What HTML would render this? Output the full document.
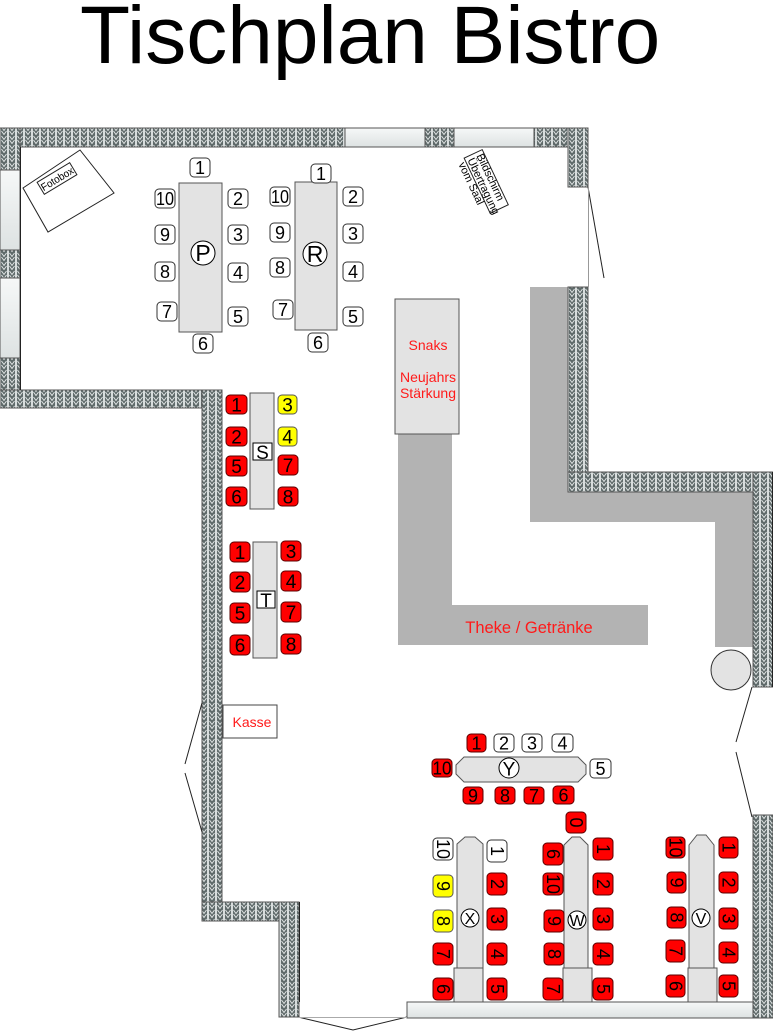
<!DOCTYPE html>
<html><head><meta charset="utf-8"><style>
html,body{margin:0;padding:0;background:#fff;}
svg{display:block;}
.cw{fill:#fff;stroke:#333;stroke-width:1}
.cr{fill:#ff0000;stroke:#5a0000;stroke-width:1}
.cy{fill:#ffff00;stroke:#555;stroke-width:1}
.wl{fill:url(#wp);stroke:#555;stroke-width:1}
.win{fill:url(#wg);stroke:#555;stroke-width:1}
.tb{fill:#e3e3e3;stroke:#555;stroke-width:1}
.ct{fill:#b3b3b3}
text{font-family:"Liberation Sans",Arial,sans-serif;}
.n{font-size:18px;text-anchor:middle;fill:#000}
.ns{font-size:19px;text-anchor:middle;fill:#000}
.red{fill:#ff1a1a;text-anchor:middle}
</style></head><body>
<svg width="773" height="1031" viewBox="0 0 773 1031" xmlns="http://www.w3.org/2000/svg">
<defs>
<pattern id="wp" width="8" height="9" patternUnits="userSpaceOnUse">
<rect width="8" height="9" fill="#5f6a6a"/>
<path d="M0.5,0V9M7.5,0V9M1.5,1L4,4.5L6.5,1M1.5,5L4,8.5L6.5,5" stroke="#e6eaea" stroke-width="0.9" fill="none"/>
</pattern>
<linearGradient id="wg" x1="0" y1="0" x2="0" y2="1">
<stop offset="0" stop-color="#f6f8f8"/><stop offset="1" stop-color="#dde2e2"/>
</linearGradient>
</defs>

<text x="80" y="63" font-size="82" fill="#000">Tischplan Bistro</text>

<!-- counters -->
<rect class="ct" x="530" y="287" width="38" height="235"/>
<rect class="ct" x="568" y="492" width="185" height="30"/>
<rect class="ct" x="715" y="492" width="38" height="155"/>
<rect class="ct" x="398" y="434" width="54" height="211"/>
<rect class="ct" x="398" y="605" width="250" height="40"/>
<text class="red" x="529" y="633" font-size="16.5">Theke / Getränke</text>

<!-- walls -->
<rect class="wl" x="0" y="128" width="588" height="19"/>
<rect class="wl" x="0" y="128" width="20" height="280"/>
<rect class="wl" x="0" y="390" width="222" height="18"/>
<rect class="wl" x="202" y="390" width="20" height="531"/>
<rect class="wl" x="202" y="902" width="97" height="19"/>
<rect class="wl" x="279" y="902" width="20" height="115"/>
<rect class="wl" x="568" y="128" width="20" height="59"/>
<rect class="wl" x="568" y="287" width="20" height="205"/>
<rect class="wl" x="568" y="472" width="205" height="20"/>
<rect class="wl" x="753" y="472" width="20" height="215"/>
<rect class="wl" x="753" y="815" width="20" height="203"/>

<!-- windows -->
<rect class="win" x="345" y="128" width="80" height="19"/>
<rect class="win" x="454" y="128" width="80" height="19"/>
<rect class="win" x="0" y="170" width="20" height="80"/>
<rect class="win" x="0" y="278" width="20" height="80"/>
<rect class="win" x="407" y="1002" width="346" height="16"/>

<!-- lines / doors -->
<g stroke="#222" stroke-width="1" fill="none">
<path d="M20.5,147V390"/>
<path d="M299.5,902V1002"/>
<path d="M772.5,472V687"/>
<path d="M588,187L604,278"/>
<path d="M752,687L736,742M736,752L752,817"/>
<path d="M202,703L185,764M185,773L202,832"/>
<path d="M298,1017L353,1030L407,1017"/>
</g>
<path d="M588.5,187V287" stroke="#999" stroke-width="1"/>
<path d="M298,1017.5H407" stroke="#aaa" stroke-width="1"/>

<circle cx="731" cy="670" r="20" fill="#e3e3e3" stroke="#333"/>

<!-- Fotobox -->
<polygon points="23,188 80,150 114,193 48,232" fill="#fff" stroke="#222"/>
<g transform="translate(57,178.5) rotate(-31)">
<rect x="-19" y="-7" width="38" height="14" fill="#fff" stroke="#222"/>
<text x="0" y="4" font-size="10.5" text-anchor="middle" textLength="36" lengthAdjust="spacingAndGlyphs">Fotobox</text>
</g>

<!-- Bildschirm -->
<g transform="translate(486,181) rotate(64.7)">
<rect x="-30" y="-10" width="61" height="20" fill="#fff" stroke="#222"/>
<text x="-27" y="-2" font-size="11">Bildschirm</text>
<text x="-27" y="8" font-size="11">Übertragung</text>
<text x="-27" y="18" font-size="11">vom Saal</text>
</g>

<!-- Snaks -->
<rect class="tb" x="395" y="299" width="64" height="135" stroke="#333"/>
<text class="red" x="428" y="350" font-size="14">Snaks</text>
<text class="red" x="428" y="382" font-size="14">Neujahrs</text>
<text class="red" x="428" y="398" font-size="14">Stärkung</text>

<!-- Kasse -->
<rect x="223" y="705" width="54" height="33" fill="#fff" stroke="#444"/>
<text class="red" x="252" y="727" font-size="14">Kasse</text>

<!-- Table P -->
<rect class="tb" x="179" y="183" width="43" height="149"/>
<circle cx="203" cy="253" r="12" fill="#fff" stroke="#000"/>
<text x="203" y="261" font-size="23" text-anchor="middle">P</text>
<rect class="cw" x="190" y="158" width="20" height="19" rx="4"/><text class="n" x="200" y="174">1</text>
<rect class="cw" x="155" y="189" width="20" height="19" rx="4"/><text class="n" x="165" y="205" textLength="18" lengthAdjust="spacingAndGlyphs">10</text>
<rect class="cw" x="228" y="189" width="20" height="19" rx="4"/><text class="n" x="238" y="205">2</text>
<rect class="cw" x="155" y="225" width="20" height="19" rx="4"/><text class="n" x="165" y="241">9</text>
<rect class="cw" x="228" y="225" width="20" height="19" rx="4"/><text class="n" x="238" y="241">3</text>
<rect class="cw" x="155" y="262" width="20" height="19" rx="4"/><text class="n" x="165" y="278">8</text>
<rect class="cw" x="228" y="263" width="20" height="19" rx="4"/><text class="n" x="238" y="279">4</text>
<rect class="cw" x="157" y="302" width="20" height="19" rx="4"/><text class="n" x="167" y="318">7</text>
<rect class="cw" x="228" y="307" width="20" height="19" rx="4"/><text class="n" x="238" y="323">5</text>
<rect class="cw" x="193" y="334" width="20" height="19" rx="4"/><text class="n" x="203" y="350">6</text>

<!-- Table R -->
<rect class="tb" x="295" y="182" width="42" height="148"/>
<circle cx="315" cy="254" r="12" fill="#fff" stroke="#000"/>
<text x="315" y="262" font-size="23" text-anchor="middle">R</text>
<rect class="cw" x="311" y="164" width="20" height="19" rx="4"/><text class="n" x="321" y="180">1</text>
<rect class="cw" x="270" y="187" width="20" height="19" rx="4"/><text class="n" x="280" y="203" textLength="18" lengthAdjust="spacingAndGlyphs">10</text>
<rect class="cw" x="343" y="187" width="20" height="19" rx="4"/><text class="n" x="353" y="203">2</text>
<rect class="cw" x="270" y="223" width="20" height="19" rx="4"/><text class="n" x="280" y="239">9</text>
<rect class="cw" x="343" y="224" width="20" height="19" rx="4"/><text class="n" x="353" y="240">3</text>
<rect class="cw" x="270" y="258" width="20" height="19" rx="4"/><text class="n" x="280" y="274">8</text>
<rect class="cw" x="343" y="262" width="20" height="19" rx="4"/><text class="n" x="353" y="278">4</text>
<rect class="cw" x="273" y="300" width="20" height="19" rx="4"/><text class="n" x="283" y="316">7</text>
<rect class="cw" x="343" y="307" width="20" height="19" rx="4"/><text class="n" x="353" y="323">5</text>
<rect class="cw" x="308" y="333" width="20" height="19" rx="4"/><text class="n" x="318" y="349">6</text>

<!-- Table S -->
<rect class="tb" x="250" y="393" width="24" height="116"/>
<rect x="253" y="443" width="19" height="17" fill="#fff" stroke="#000"/>
<text x="262.5" y="459" font-size="19" text-anchor="middle">S</text>
<rect class="cr" x="226" y="395" width="21" height="19" rx="4"/><text class="ns" x="236.5" y="411.5">1</text>
<rect class="cy" x="278" y="395" width="19" height="19" rx="4"/><text class="ns" x="287.5" y="411.5">3</text>
<rect class="cr" x="226" y="427" width="21" height="19" rx="4"/><text class="ns" x="236.5" y="443.5">2</text>
<rect class="cy" x="278" y="427" width="19" height="19" rx="4"/><text class="ns" x="287.5" y="443.5">4</text>
<rect class="cr" x="226" y="456" width="21" height="20" rx="4"/><text class="ns" x="236.5" y="473">5</text>
<rect class="cr" x="278" y="455" width="20" height="20" rx="4"/><text class="ns" x="288" y="472">7</text>
<rect class="cr" x="226" y="487" width="21" height="19" rx="4"/><text class="ns" x="236.5" y="503.5">6</text>
<rect class="cr" x="278" y="487" width="20" height="19" rx="4"/><text class="ns" x="288" y="503.5">8</text>

<!-- Table T -->
<rect class="tb" x="253" y="542" width="24" height="116"/>
<rect x="257" y="591" width="18" height="17" fill="#fff" stroke="#000"/>
<text x="266" y="607" font-size="19" text-anchor="middle">T</text>
<rect class="cr" x="230" y="542" width="20" height="20" rx="4"/><text class="ns" x="240" y="559">1</text>
<rect class="cr" x="281" y="541" width="20" height="20" rx="4"/><text class="ns" x="291" y="558">3</text>
<rect class="cr" x="230" y="572" width="20" height="20" rx="4"/><text class="ns" x="240" y="589">2</text>
<rect class="cr" x="281" y="571" width="20" height="20" rx="4"/><text class="ns" x="291" y="588">4</text>
<rect class="cr" x="230" y="603" width="20" height="20" rx="4"/><text class="ns" x="240" y="620">5</text>
<rect class="cr" x="281" y="602" width="20" height="20" rx="4"/><text class="ns" x="291" y="619">7</text>
<rect class="cr" x="230" y="635" width="20" height="20" rx="4"/><text class="ns" x="240" y="652">6</text>
<rect class="cr" x="281" y="634" width="20" height="20" rx="4"/><text class="ns" x="291" y="651">8</text>

<!-- Table Y -->
<polygon class="tb" points="464,757 578,757 586,765 586,774 578,782 464,782 456,774 456,765"/>
<circle cx="509" cy="768" r="10" fill="#fff" stroke="#000"/>
<text x="509" y="775.5" font-size="19" text-anchor="middle">Y</text>
<rect class="cr" x="467" y="734" width="19" height="18" rx="4"/><text class="n" x="476.5" y="749.5">1</text>
<rect class="cw" x="494" y="734" width="20" height="18" rx="4"/><text class="n" x="504" y="749.5">2</text>
<rect class="cw" x="522" y="734" width="20" height="18" rx="4"/><text class="n" x="532" y="749.5">3</text>
<rect class="cw" x="552" y="734" width="21" height="18" rx="4"/><text class="n" x="562.5" y="749.5">4</text>
<rect class="cr" x="432" y="759" width="20" height="18" rx="4"/><text class="n" x="442" y="774.5" textLength="19" lengthAdjust="spacingAndGlyphs">10</text>
<rect class="cw" x="590" y="759" width="21" height="19" rx="4"/><text class="n" x="600.5" y="775">5</text>
<rect class="cr" x="463" y="787" width="20" height="17" rx="4"/><text class="n" x="473" y="802">9</text>
<rect class="cr" x="495" y="787" width="20" height="17" rx="4"/><text class="n" x="505" y="802">8</text>
<rect class="cr" x="524" y="787" width="20" height="17" rx="4"/><text class="n" x="534" y="802">7</text>
<rect class="cr" x="553" y="786" width="21" height="18" rx="4"/><text class="n" x="563.5" y="801.5">6</text>

<!-- Table X -->
<polygon class="tb" points="457,844 465,837 475,837 483,844 483,968 457,968"/>
<rect class="tb" x="454" y="968" width="29" height="34"/>
<circle cx="470" cy="918" r="9" fill="#fff" stroke="#000"/>
<text x="470" y="924" font-size="16" text-anchor="middle">X</text>
<rect class="cw" x="433" y="838" width="20" height="22" rx="4"/><text class="n" transform="translate(443,849) rotate(90)" x="0" y="6" textLength="20" lengthAdjust="spacingAndGlyphs">10</text>
<rect class="cy" x="433" y="875" width="20" height="22" rx="4"/><text class="n" transform="translate(443,886) rotate(90)" x="0" y="6">9</text>
<rect class="cy" x="433" y="910" width="20" height="22" rx="4"/><text class="n" transform="translate(443,921) rotate(90)" x="0" y="6">8</text>
<rect class="cr" x="433" y="943" width="20" height="22" rx="4"/><text class="n" transform="translate(443,954) rotate(90)" x="0" y="6">7</text>
<rect class="cr" x="433" y="978" width="20" height="22" rx="4"/><text class="n" transform="translate(443,989) rotate(90)" x="0" y="6">6</text>
<rect class="cw" x="487" y="840" width="20" height="22" rx="4"/><text class="n" transform="translate(497,851) rotate(90)" x="0" y="6">1</text>
<rect class="cr" x="487" y="873" width="20" height="22" rx="4"/><text class="n" transform="translate(497,884) rotate(90)" x="0" y="6">2</text>
<rect class="cr" x="487" y="908" width="20" height="22" rx="4"/><text class="n" transform="translate(497,919) rotate(90)" x="0" y="6">3</text>
<rect class="cr" x="487" y="943" width="20" height="22" rx="4"/><text class="n" transform="translate(497,954) rotate(90)" x="0" y="6">4</text>
<rect class="cr" x="487" y="978" width="20" height="22" rx="4"/><text class="n" transform="translate(497,989) rotate(90)" x="0" y="6">5</text>

<!-- Table W -->
<polygon class="tb" points="564,845 572,837 580,837 588,845 588,968 564,968"/>
<rect class="tb" x="563" y="968" width="29" height="34"/>
<circle cx="577" cy="920" r="9" fill="#fff" stroke="#000"/>
<text x="577" y="926" font-size="16" text-anchor="middle">W</text>
<rect class="cr" x="566" y="812" width="20" height="21" rx="4"/><text class="n" transform="translate(576,822.5) rotate(90)" x="0" y="6">0</text>
<rect class="cr" x="543" y="843" width="20" height="22" rx="4"/><text class="n" transform="translate(553,854) rotate(90)" x="0" y="6">6</text>
<rect class="cr" x="543" y="873" width="20" height="22" rx="4"/><text class="n" transform="translate(553,884) rotate(90)" x="0" y="6" textLength="20" lengthAdjust="spacingAndGlyphs">10</text>
<rect class="cr" x="544" y="910" width="20" height="22" rx="4"/><text class="n" transform="translate(554,921) rotate(90)" x="0" y="6">9</text>
<rect class="cr" x="544" y="943" width="20" height="22" rx="4"/><text class="n" transform="translate(554,954) rotate(90)" x="0" y="6">8</text>
<rect class="cr" x="543" y="978" width="20" height="22" rx="4"/><text class="n" transform="translate(553,989) rotate(90)" x="0" y="6">7</text>
<rect class="cr" x="593" y="838" width="20" height="22" rx="4"/><text class="n" transform="translate(603,849) rotate(90)" x="0" y="6">1</text>
<rect class="cr" x="593" y="873" width="20" height="22" rx="4"/><text class="n" transform="translate(603,884) rotate(90)" x="0" y="6">2</text>
<rect class="cr" x="593" y="908" width="20" height="22" rx="4"/><text class="n" transform="translate(603,919) rotate(90)" x="0" y="6">3</text>
<rect class="cr" x="593" y="943" width="20" height="22" rx="4"/><text class="n" transform="translate(603,954) rotate(90)" x="0" y="6">4</text>
<rect class="cr" x="593" y="978" width="20" height="22" rx="4"/><text class="n" transform="translate(603,989) rotate(90)" x="0" y="6">5</text>

<!-- Table V -->
<polygon class="tb" points="689,845 697,835 706,835 714,845 714,968 689,968"/>
<rect class="tb" x="688" y="968" width="29" height="34"/>
<circle cx="701" cy="918" r="9" fill="#fff" stroke="#000"/>
<text x="701" y="924" font-size="16" text-anchor="middle">V</text>
<rect class="cr" x="666" y="837" width="19" height="21" rx="4"/><text class="n" transform="translate(675.5,847.5) rotate(90)" x="0" y="6" textLength="20" lengthAdjust="spacingAndGlyphs">10</text>
<rect class="cr" x="667" y="872" width="19" height="21" rx="4"/><text class="n" transform="translate(676.5,882.5) rotate(90)" x="0" y="6">9</text>
<rect class="cr" x="667" y="907" width="19" height="21" rx="4"/><text class="n" transform="translate(676.5,917.5) rotate(90)" x="0" y="6">8</text>
<rect class="cr" x="666" y="940" width="19" height="22" rx="4"/><text class="n" transform="translate(675.5,951) rotate(90)" x="0" y="6">7</text>
<rect class="cr" x="666" y="975" width="19" height="22" rx="4"/><text class="n" transform="translate(675.5,986) rotate(90)" x="0" y="6">6</text>
<rect class="cr" x="719" y="837" width="19" height="21" rx="4"/><text class="n" transform="translate(728.5,847.5) rotate(90)" x="0" y="6">1</text>
<rect class="cr" x="719" y="872" width="19" height="21" rx="4"/><text class="n" transform="translate(728.5,882.5) rotate(90)" x="0" y="6">2</text>
<rect class="cr" x="719" y="908" width="19" height="21" rx="4"/><text class="n" transform="translate(728.5,918.5) rotate(90)" x="0" y="6">3</text>
<rect class="cr" x="719" y="942" width="19" height="21" rx="4"/><text class="n" transform="translate(728.5,952.5) rotate(90)" x="0" y="6">4</text>
<rect class="cr" x="719" y="975" width="19" height="22" rx="4"/><text class="n" transform="translate(728.5,986) rotate(90)" x="0" y="6">5</text>
</svg>
</body></html>
